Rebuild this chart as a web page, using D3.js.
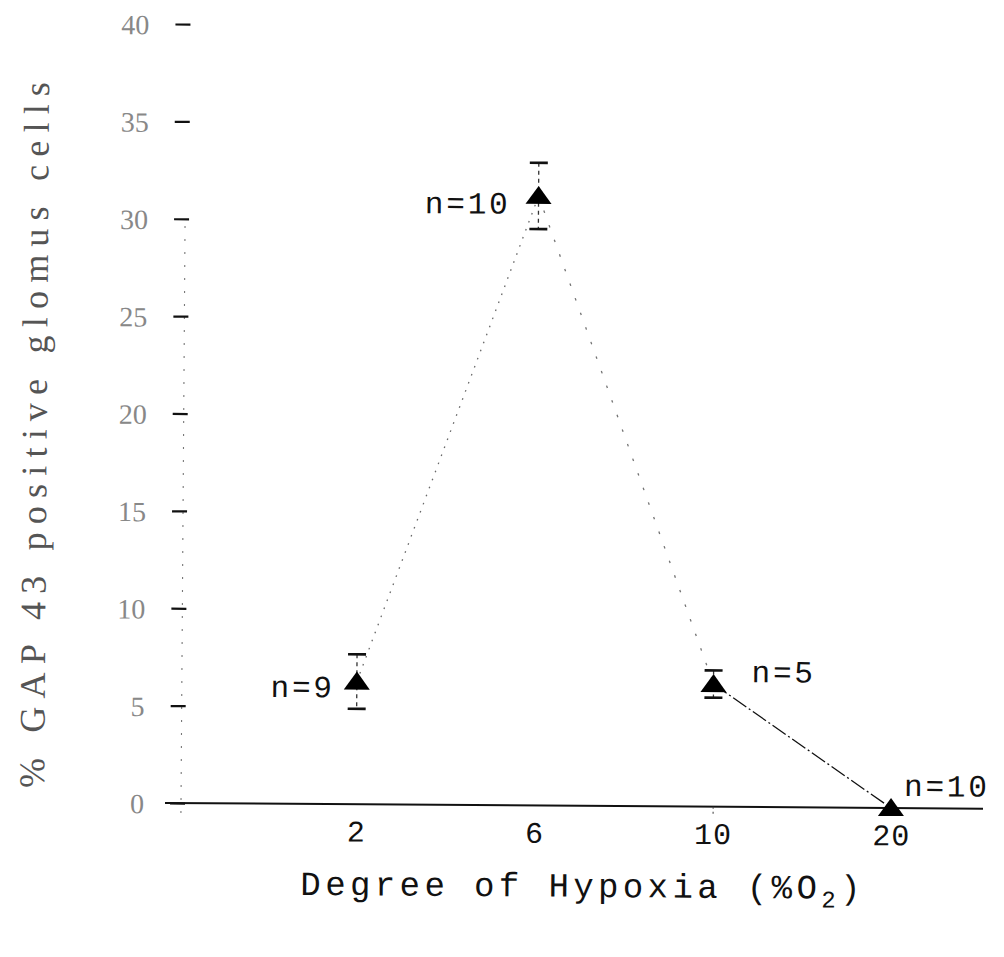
<!DOCTYPE html>
<html>
<head>
<meta charset="utf-8">
<script src="https://cdn.jsdelivr.net/npm/d3@7"></script>
<style>
  html, body { margin: 0; padding: 0; background: #fff; }
  svg { display: block; }
</style>
</head>
<body>
<svg id="chart" width="1004" height="957"></svg>
<script>
// O2 levels (% O2) and GAP-43 positive glomus cell counts (mean ± SEM)
const categories = ['2', '6', '10', '20'];
const means = [6.3, 31.3, 6.3, 0];
const sems = [1.4, 1.7, 0.7, 0];
const sampleLabels = ['n=9', 'n=10', 'n=5', 'n=10'];
const yTicks = [0, 5, 10, 15, 20, 25, 30, 35, 40];

// label placement around each marker (dx, dy, anchor)
const labelPlacement = [
  { dx: -22, dy: 16, anchor: 'end' },
  { dx: -28, dy: 18, anchor: 'end' },
  { dx: 38, dy: -2, anchor: 'start' },
  { dx: 13, dy: -12, anchor: 'start' }
];
// connecting segment styles between consecutive points
const segmentStyles = [
  { dash: '1.6,7', width: 1.3, color: '#444', opacity: 0.8 },
  { dash: '2.5,13', width: 1.3, color: '#444', opacity: 0.75 },
  { dash: '16,3,2,3', width: 1.3, color: '#111', opacity: 1 }
];

const svg = d3.select('#chart');
// the whole figure sits on a slightly tilted page
const g = svg.append('g').attr('transform', 'rotate(0.4, 175, 803)');

const x = d3.scalePoint().domain(categories).range([356, 891]);
const y = d3.scaleLinear().domain([0, 40]).range([803, 24]);

const monoFont = '"Liberation Mono", "DejaVu Sans Mono", monospace';
const serifFont = '"Liberation Serif", "DejaVu Serif", serif';

// y axis: broken dotted spine, short ticks, faint serif labels
g.append('line')
  .attr('x1', 181).attr('x2', 181)
  .attr('y1', y(0) + 10).attr('y2', y(30) - 2)
  .attr('stroke', '#777').attr('stroke-width', 1.1)
  .attr('stroke-dasharray', '2,11');

const yAxis = g.append('g').attr('transform', 'translate(185,0)')
  .call(d3.axisLeft(y).tickValues(yTicks).tickSize(15).tickPadding(26)
    .tickFormat(d3.format('d')));
yAxis.select('.domain').remove();
yAxis.selectAll('.tick line').attr('stroke', '#111').attr('stroke-width', 2.2);
yAxis.selectAll('.tick text')
  .attr('font-family', serifFont).attr('font-size', 28)
  .attr('fill', '#888').attr('dy', '0.36em');

// baseline at zero
g.append('line')
  .attr('x1', 165).attr('x2', 983)
  .attr('y1', y(0)).attr('y2', y(0))
  .attr('stroke', '#111').attr('stroke-width', 2);

// x axis ticks and labels
const xAxis = g.append('g').attr('transform', `translate(0,${y(0)})`)
  .call(d3.axisBottom(x).tickSize(8).tickPadding(8));
xAxis.select('.domain').remove();
xAxis.selectAll('.tick line')
  .attr('stroke', '#444').attr('stroke-width', 1.2)
  .attr('stroke-dasharray', '2,3')
  .attr('opacity', (d, i) => i >= 2 ? 0.9 : 0);
xAxis.selectAll('.tick text')
  .attr('font-family', monoFont).attr('font-size', 30)
  .attr('letter-spacing', 1)
  .attr('fill', '#111');

// axis titles
const xTitle = g.append('text')
  .attr('x', 301).attr('y', 894)
  .attr('font-family', monoFont).attr('font-size', 34)
  .attr('letter-spacing', 4.4)
  .attr('fill', '#111');
xTitle.append('tspan').text('Degree of Hypoxia (%O');
xTitle.append('tspan').attr('font-size', 24).attr('dy', 9).text('2');
xTitle.append('tspan').attr('dy', -9).text(')');

g.append('text')
  .attr('transform', 'translate(44,436) rotate(-90)')
  .attr('text-anchor', 'middle')
  .attr('font-family', serifFont).attr('font-size', 36)
  .attr('textLength', 706).attr('lengthAdjust', 'spacing')
  .attr('fill', '#555')
  .text('% GAP 43 positive glomus cells');

// connecting segments
const pts = categories.map((c, i) => ({ c, m: means[i], s: sems[i], n: sampleLabels[i] }));
const line = d3.line().x(d => x(d.c)).y(d => y(d.m));
for (let i = 0; i < pts.length - 1; i++) {
  const st = segmentStyles[i];
  g.append('path')
    .attr('d', line([pts[i], pts[i + 1]]))
    .attr('fill', 'none')
    .attr('stroke', st.color).attr('stroke-width', st.width)
    .attr('stroke-opacity', st.opacity)
    .attr('stroke-dasharray', st.dash);
}

// error bars
const eb = g.append('g');
pts.filter(d => d.s > 0).forEach(d => {
  const cx = x(d.c);
  eb.append('line')
    .attr('x1', cx).attr('x2', cx)
    .attr('y1', y(d.m + d.s)).attr('y2', y(d.m - d.s))
    .attr('stroke', '#333').attr('stroke-width', 1.3)
    .attr('stroke-dasharray', '4,4');
  [d.m + d.s, d.m - d.s].forEach(v => {
    eb.append('line')
      .attr('x1', cx - 9).attr('x2', cx + 9)
      .attr('y1', y(v)).attr('y2', y(v))
      .attr('stroke', '#111').attr('stroke-width', 2.6);
  });
});

// triangle markers
const tri = (cx, cy) => `M${cx},${cy - 10}L${cx + 13},${cy + 8}L${cx - 13},${cy + 8}Z`;
g.append('g').selectAll('path').data(pts).join('path')
  .attr('d', d => tri(x(d.c), y(d.m)))
  .attr('fill', '#000');

// sample size labels
g.append('g').selectAll('text').data(pts).join('text')
  .attr('x', (d, i) => x(d.c) + labelPlacement[i].dx)
  .attr('y', (d, i) => y(d.m) + labelPlacement[i].dy)
  .attr('text-anchor', (d, i) => labelPlacement[i].anchor)
  .attr('font-family', monoFont).attr('font-size', 31)
  .attr('letter-spacing', 2.8)
  .attr('fill', '#111')
  .text(d => d.n);
</script>
</body>
</html>
